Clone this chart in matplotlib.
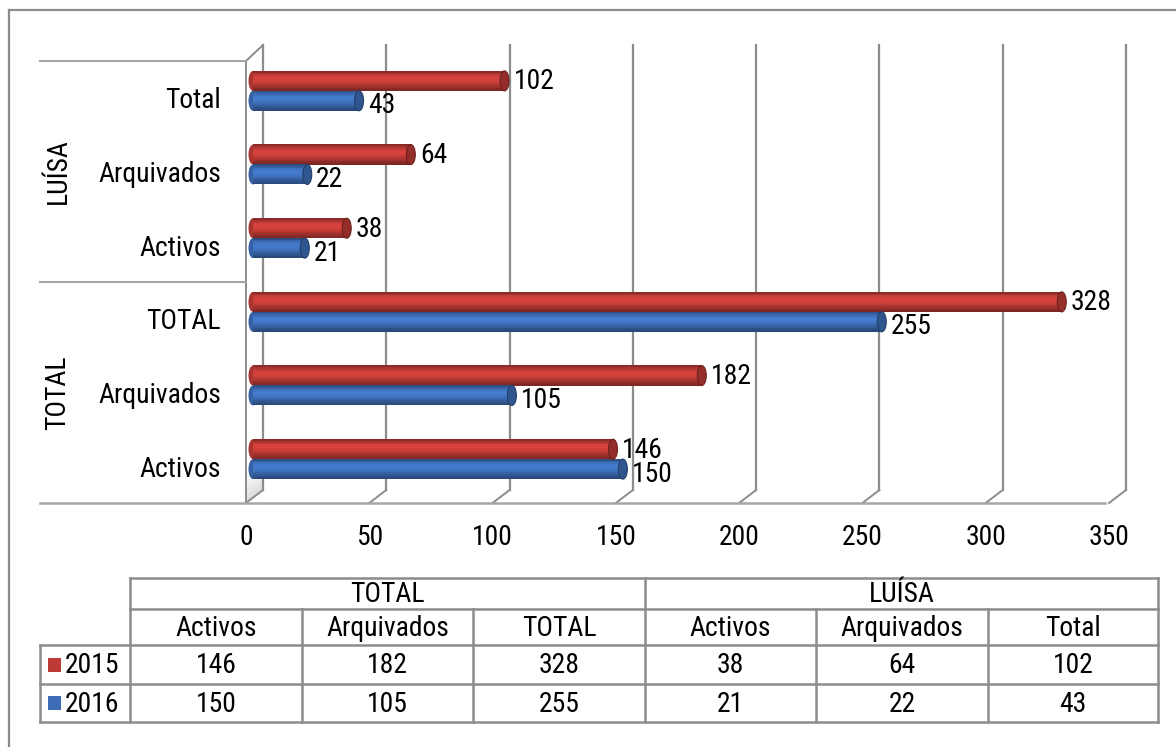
import matplotlib
matplotlib.use('Agg')
import matplotlib.pyplot as plt
import numpy as np
from matplotlib import font_manager
from matplotlib.font_manager import FontProperties
from matplotlib.textpath import TextPath
from matplotlib.transforms import offset_copy, IdentityTransform, blended_transform_factory
from matplotlib.patches import Ellipse, Rectangle, Polygon
from matplotlib.lines import Line2D

# ---------------- data ----------------
groups = ['TOTAL', 'LUÍSA']
categories = ['Activos', 'Arquivados', 'TOTAL', 'Activos', 'Arquivados', 'Total']
group_of = [0, 0, 0, 1, 1, 1]
series_names = ['2015', '2016']
values_2015 = [146, 182, 328, 38, 64, 102]
values_2016 = [150, 105, 255, 21, 22, 43]
xticks = [0, 50, 100, 150, 200, 250, 300, 350]

# ---------------- font: pick a narrow / condensed sans ----------------
def _is_regular(f):
    return f.style == 'normal' and f.weight in (400, 'normal', 'regular', 'book')

def _is_narrow(f):
    st = f.stretch
    if 'Narrow' in f.name or 'Condensed' in f.name:
        return 'Extra' not in f.name and 'Semi' not in f.name
    return st in ('condensed',) or (isinstance(st, int) and 200 < st < 500)

order = ['Liberation Sans Narrow', 'Roboto Condensed', 'Open Sans Condensed',
         'Noto Sans Condensed', 'Noto Sans', 'Open Sans', 'Roboto', 'DejaVu Sans Condensed', 'DejaVu Sans']
cands = [f for f in font_manager.fontManager.ttflist if _is_regular(f) and _is_narrow(f)]

def _rank(f):
    for i, n in enumerate(order):
        if f.name == n:
            return i
    return len(order)

cands.sort(key=_rank)
if cands:
    BASEFP = FontProperties(fname=cands[0].fname)
else:
    BASEFP = FontProperties(family='Liberation Sans')

# size chosen so that "Arquivados" spans about 121 px as in the reference
_w = TextPath((0, 0), 'Arquivados', size=20, prop=BASEFP).get_extents().width * 100 / 72
FS = 20 * 121.0 / _w

def fp():
    p = BASEFP.copy()
    p.set_size(FS)
    return p

GRID = '#8c8c8c'
DIV = '#a6a6a6'
red_base = np.array([0.78, 0.24, 0.22])
blue_base = np.array([0.25, 0.45, 0.75])
series_colors = [red_base, blue_base]

W, H = 1176, 747
fig = plt.figure(figsize=(W / 100, H / 100), dpi=100)

def fx(px):
    return px / W

def fy(py):
    return 1 - py / H

AX_L, AX_R, AX_T, AX_B = 246, 1109, 61, 503
ax = fig.add_axes([fx(AX_L), fy(AX_B), (AX_R - AX_L) / W, (AX_B - AX_T) / H])
ax.set_xlim(0, 350)
ax.set_ylim(-0.5, 5.5)
for s in ax.spines.values():
    s.set_visible(False)
ax.set_xticks(xticks)
ax.set_xticklabels([str(t) for t in xticks], fontproperties=fp())
ax.set_yticks(range(len(categories)))
ax.set_yticklabels(categories, fontproperties=fp())
ax.tick_params(axis='x', length=0, pad=15)
ax.tick_params(axis='y', length=0, pad=18)
ax.set_facecolor('none')

BACK = (17, 13)   # depth offset of back wall (pixels)
BAR = (7, 7)      # depth offset of bars

def disp(x, y, off=(0, 0)):
    p = ax.transData.transform((x, y))
    return p[0] + off[0], p[1] + off[1]

def line_disp(pts, **kw):
    xs = [p[0] for p in pts]
    ys = [p[1] for p in pts]
    ax.add_line(Line2D(xs, ys, transform=IdentityTransform(), clip_on=False, **kw))

def fig_line(xpx, ypx, **kw):
    fig.add_artist(Line2D([fx(v) for v in xpx], [fy(v) for v in ypx],
                          transform=fig.transFigure, **kw))

# outer border
fig_line([9, 9], [10, 747], color='#8c8c8c', lw=1.6)
fig_line([9, 1176], [10, 10], color='#8c8c8c', lw=1.6)

# left wall shading (soft gradient near the floor)
pf = disp(0, -0.5)
pb = disp(0, -0.5, BACK)
for k in range(6):
    t = k / 6
    ax.add_patch(Polygon([(pf[0], pf[1] + 28 * t), (pb[0], pb[1] + 20 * t),
                          (pb[0], pb[1] + 20 * (t + 1 / 6)), (pf[0], pf[1] + 28 * (t + 1 / 6))],
                         closed=True, transform=IdentityTransform(), clip_on=False,
                         facecolor=str(0.86 + 0.13 * t), edgecolor='none', zorder=0.5))

# back wall gridlines and floor diagonals
for v in xticks:
    line_disp([disp(v, -0.5, BACK), disp(v, 5.5, (BACK[0], BACK[1] + 3))], color=GRID, lw=1.6, zorder=1)
    line_disp([disp(v, -0.5), disp(v, -0.5, BACK)], color=GRID, lw=1.4, zorder=1)

# left wall edges
line_disp([disp(0, -0.5), disp(0, 5.5)], color=GRID, lw=1.4, zorder=1)
line_disp([disp(0, 5.5), disp(0, 5.5, (BACK[0], BACK[1] + 3))], color=GRID, lw=1.4, zorder=1)

# floor front edge / category dividers
trb = blended_transform_factory(ax.transAxes, ax.transData)
x_div0 = (40 - AX_L) / (AX_R - AX_L)
ax.plot([x_div0, 0], [5.5, 5.5], transform=trb, color=DIV, lw=1.5, clip_on=False, zorder=1)
ax.plot([x_div0, 0], [2.5, 2.5], transform=trb, color=DIV, lw=1.5, clip_on=False, zorder=1)
ax.plot([x_div0, 1.0 - 4 / (AX_R - AX_L)], [-0.5, -0.5], transform=trb, color=DIV, lw=1.8,
        clip_on=False, zorder=1)

# group labels
for gi, g in enumerate(groups):
    idx = [i for i, k in enumerate(group_of) if k == gi]
    yc = np.mean(idx)
    ax.text((58 - AX_L) / (AX_R - AX_L), yc, g, transform=trb, rotation=90,
            ha='center', va='center', fontproperties=fp(), clip_on=False)

# ---------------- bars ----------------
bar_tr = offset_copy(ax.transData, fig=fig, x=BAR[0], y=BAR[1], units='dots')
px_per_unit = (AX_R - AX_L) / 350.0
px_per_cat = (AX_B - AX_T) / 6.0
bh = 20 / px_per_cat
cap_w = 9 / px_per_unit
nsl = 12
ypos = np.arange(len(categories))
for si, (vals, base) in enumerate(zip([values_2015, values_2016], series_colors)):
    centers = ypos + (0.135 if si == 0 else -0.135)
    for k in range(nsl):
        frac = (k + 0.5) / nsl
        b = 0.62 + 0.46 * np.sin(np.pi * frac ** 1.4)
        col = np.clip(base * b, 0, 1)
        y0 = centers - bh / 2 + k * bh / nsl
        ax.barh(y0, vals, height=bh / nsl * 1.05, align='edge', left=0,
                color=col, edgecolor='none', transform=bar_tr, zorder=3)
    for c, v in zip(centers, vals):
        ax.add_patch(Ellipse((0, c), cap_w, bh, transform=bar_tr,
                             facecolor=np.clip(base * 0.85, 0, 1), edgecolor='none', zorder=2.9))
        ax.add_patch(Ellipse((v, c), cap_w, bh, transform=bar_tr,
                             facecolor=np.clip(base * 0.75, 0, 1),
                             edgecolor=np.clip(base * 0.55, 0, 1), lw=0.8, zorder=3.1))
    dy = -1 if si == 0 else -5
    lab_tr = offset_copy(ax.transData, fig=fig, x=BAR[0] + 9, y=BAR[1] + dy, units='dots')
    for c, v in zip(centers, vals):
        ax.text(v, c, str(v), transform=lab_tr, ha='left', va='center', fontproperties=fp(), zorder=4)

ax.set_xlim(0, 350)
ax.set_ylim(-0.5, 5.5)

# ---------------- data table ----------------
col_edges = [130, 302, 473, 645, 816, 988, 1158]
row_edges = [578, 609, 645, 684, 722]
LEG_L = 40
TC = '#8c8c8c'
TLW = 1.8
fig_line([col_edges[0], col_edges[-1]], [row_edges[0]] * 2, color=TC, lw=TLW)
fig_line([col_edges[0], col_edges[-1]], [row_edges[1]] * 2, color=TC, lw=TLW)
for r in row_edges[2:]:
    fig_line([LEG_L, col_edges[-1]], [r, r], color=TC, lw=TLW)
fig_line([LEG_L, LEG_L], [row_edges[2], row_edges[4]], color=TC, lw=TLW)
for ci, cx in enumerate(col_edges):
    if ci in (0, 3, 6):
        fig_line([cx, cx], [row_edges[0], row_edges[4]], color=TC, lw=TLW)
    else:
        fig_line([cx, cx], [row_edges[1], row_edges[4]], color=TC, lw=TLW)

for gi, g in enumerate(groups):
    x0 = col_edges[gi * 3]
    x1 = col_edges[gi * 3 + 3]
    fig.text(fx((x0 + x1) / 2), fy((row_edges[0] + row_edges[1]) / 2 + 1), g,
             ha='center', va='center', fontproperties=fp())
for ci, cat in enumerate(categories):
    xc = fx((col_edges[ci] + col_edges[ci + 1]) / 2)
    fig.text(xc, fy((row_edges[1] + row_edges[2]) / 2 + 1), cat, ha='center', va='center',
             fontproperties=fp())
    fig.text(xc, fy((row_edges[2] + row_edges[3]) / 2 + 1), str(values_2015[ci]),
             ha='center', va='center', fontproperties=fp())
    fig.text(xc, fy((row_edges[3] + row_edges[4]) / 2 + 1), str(values_2016[ci]),
             ha='center', va='center', fontproperties=fp())
for ri, (name, base) in enumerate(zip(series_names, series_colors)):
    yc = (row_edges[2 + ri] + row_edges[3 + ri]) / 2
    fig.add_artist(Rectangle((fx(48), fy(yc + 7)), 13 / W, 14 / H, transform=fig.transFigure,
                             facecolor=np.clip(base * 0.95, 0, 1), edgecolor='none'))
    fig.text(fx(65), fy(yc + 1), name, ha='left', va='center', fontproperties=fp())

fig.savefig('out.png', dpi=100)
